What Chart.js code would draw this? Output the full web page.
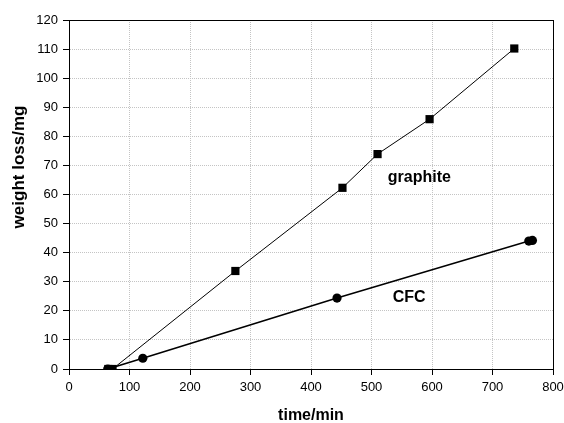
<!DOCTYPE html>
<html>
<head>
<meta charset="utf-8">
<script src="https://cdn.jsdelivr.net/npm/chart.js@4"></script>
<style>
    html, body { margin: 0; padding: 0; background: #fff; }
    #wrap { width: 564px; height: 423px; }
</style>
</head>
<body>
<div id="wrap"><canvas id="lossChart"></canvas></div>
<script>
// values
const graphiteTime = [65, 72, 275, 452, 510, 596, 736];
const graphiteLoss = [0, 0, 33.7, 62.3, 73.9, 85.9, 110.2];
const cfcTime = [64, 122, 443, 760, 766];
const cfcLoss = [0, 3.7, 24.4, 44.0, 44.2];

const seriesLabels = ['graphite', 'CFC'];
// where the series names sit, in data units
const labelTime = [527, 535];
const labelLoss = [64.3, 23.0];

const xTitle = 'time/min';
const yTitle = 'weight loss/mg';

const FONT = '"Liberation Sans", Arial, sans-serif';

function toPoints(xs, ys) {
    return xs.map((x, i) => ({ x: x, y: ys[i] }));
}

// frame, series names and axis titles
const extrasPlugin = {
    id: 'extras',
    afterDraw(chart) {
        const ctx = chart.ctx;
        const area = chart.chartArea;
        const xs = chart.scales.x;
        const ys = chart.scales.y;
        ctx.save();
        ctx.strokeStyle = '#000';
        ctx.lineWidth = 1;
        ctx.strokeRect(Math.round(area.left) + 0.5, Math.round(area.top) + 0.5,
            Math.round(area.right - area.left), Math.round(area.bottom - area.top));

        ctx.fillStyle = '#000';
        ctx.font = 'bold 16px ' + FONT;
        ctx.textAlign = 'left';
        ctx.textBaseline = 'alphabetic';
        seriesLabels.forEach((txt, i) => {
            ctx.fillText(txt, xs.getPixelForValue(labelTime[i]), ys.getPixelForValue(labelLoss[i]));
        });

        ctx.textAlign = 'center';
        ctx.fillText(xTitle, (area.left + area.right) / 2, 420);

        ctx.font = 'bold 17px ' + FONT;
        ctx.textBaseline = 'middle';
        ctx.translate(19, 167);
        ctx.rotate(-Math.PI / 2);
        ctx.fillText(yTitle, 0, 0);
        ctx.restore();
    }
};

const ctx = document.getElementById('lossChart').getContext('2d');
new Chart(ctx, {
    type: 'scatter',
    data: {
        datasets: [
            {
                label: 'graphite',
                data: toPoints(graphiteTime, graphiteLoss),
                showLine: true,
                borderColor: '#000',
                backgroundColor: '#000',
                borderWidth: 1,
                pointStyle: 'rect',
                pointRadius: 5.8,
                pointBorderWidth: 0
            },
            {
                label: 'CFC',
                data: toPoints(cfcTime, cfcLoss),
                showLine: true,
                borderColor: '#000',
                backgroundColor: '#000',
                borderWidth: 1.6,
                pointStyle: 'circle',
                pointRadius: 4.6,
                pointBorderWidth: 0
            }
        ]
    },
    options: {
        responsive: true,
        maintainAspectRatio: false,
        animation: false,
        layout: { padding: { top: 20, right: 0, left: 0, bottom: 0 } },
        plugins: {
            legend: { display: false },
            tooltip: { enabled: false }
        },
        scales: {
            x: {
                type: 'linear',
                min: 0,
                max: 800,
                afterFit: scale => {
                    scale.height = 54;
                    scale.paddingRight = 11;
                },
                ticks: {
                    stepSize: 100,
                    padding: 5,
                    color: '#000',
                    font: { family: FONT, size: 13 },
                    maxRotation: 0
                },
                grid: {
                    color: '#c4c4c4',
                    tickColor: '#000',
                    tickLength: 6,
                    tickBorderDash: []
                },
                border: { color: '#000', width: 1, dash: [1, 1] }
            },
            y: {
                min: 0,
                max: 120,
                afterFit: scale => { scale.width = 69; },
                ticks: {
                    stepSize: 10,
                    padding: 5,
                    color: '#000',
                    font: { family: FONT, size: 13 }
                },
                grid: {
                    color: '#c4c4c4',
                    tickColor: '#000',
                    tickLength: 6,
                    tickBorderDash: []
                },
                border: { color: '#000', width: 1, dash: [1, 1] }
            }
        }
    },
    plugins: [extrasPlugin]
});
</script>
</body>
</html>
